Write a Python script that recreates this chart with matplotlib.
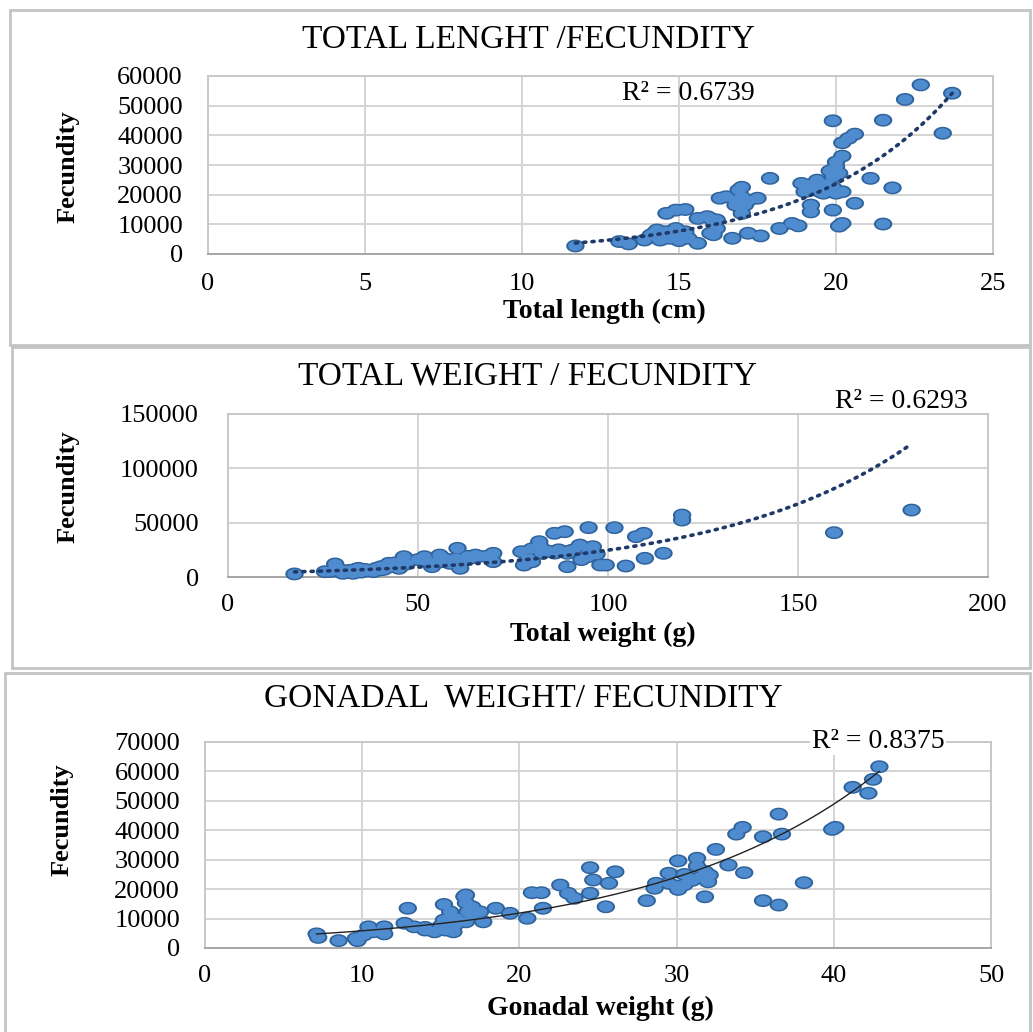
import numpy as np
import matplotlib
matplotlib.use('Agg')
import matplotlib.pyplot as plt
from matplotlib.path import Path
from matplotlib.patches import Rectangle

plt.rcParams['font.family'] = ['Liberation Serif', 'DejaVu Serif']

# ---- data ----
# panel 1: total length (cm) vs fecundity
len_cm = [11.7, 13.1, 13.4, 13.9, 14.1, 14.3, 14.4, 14.6, 14.7, 14.9, 15.2, 15.3, 15.6,
          14.6, 14.9, 15.2, 15.6, 15.9, 16.1, 16.2, 16.0, 16.7, 17.2, 17.6, 18.2, 18.6,
          18.8, 16.3, 16.5, 16.9, 17.0, 17.1, 17.0, 17.5, 16.8, 17.9, 18.9, 19.1, 19.4,
          19.5, 19.2, 19.2, 19.9, 20.2, 20.1, 20.6, 20.0, 20.1, 20.2, 22.7, 23.7, 22.2,
          19.9, 21.5, 20.6, 20.4, 20.2, 23.4, 20.2, 20.0, 21.1, 21.8, 21.5, 19.9, 19.7,
          19.0, 14.2, 15.0, 16.2, 17.2, 19.9, 20.0,
          14.5, 14.8, 15.0, 14.3, 16.1, 16.0, 16.8, 17.0, 19.8, 19.3, 19.6]
fec_len = [2700, 4200, 3400, 4700, 6400, 8100, 4700, 7500, 5300, 8600, 7500, 5300, 3600,
           13700, 14800, 15000, 12000, 12600, 10900, 8600, 7000, 5300, 7000, 6100, 8600, 10300,
           9500, 18800, 19300, 21600, 19300, 16500, 13700, 18800, 16500, 25500, 23800, 23200, 24900,
           21000, 16500, 14200, 14800, 10300, 9400, 17100, 29400, 27200, 21000, 57000, 54200, 52100,
           44900, 45100, 40400, 39000, 37500, 40700, 33000, 31000, 25500, 22300, 10100, 22500, 23500,
           21000, 7000, 6200, 11500, 18000, 26000, 20500,
           6000, 7000, 4500, 5800, 6500, 12000, 18000, 22500, 28000, 22500, 20500]

# panel 2: total weight (g) vs fecundity
wt_g = [17.5, 25.5, 28.2, 28.2, 30.2, 31, 32.9, 33, 34.3, 35, 36, 37, 38.3, 39, 40.3, 41,
        42.3, 43, 44, 45, 46.3, 51.7, 53.7, 55.7, 58.4, 60.4, 61.1, 62.4, 65.1, 69.8, 69.8,
        77.2, 77.9, 81.9, 82.6, 85.9, 88.6, 89.3, 89.3, 92.6, 94.7, 96, 98, 99.4, 94.9, 101.7,
        104.7, 107.4, 109.4, 109.7, 114.6, 119.5, 119.5, 159.5, 179.9,
        56, 57, 63, 66, 79, 80, 84, 86, 91, 93, 50, 47, 80,
        27, 29, 32, 36, 40, 42, 44, 52, 55, 60, 64, 68, 82, 87, 90, 95, 97]
fec_wt = [2800, 4900, 6400, 12000, 3400, 5500, 3400, 6500, 8000, 4500, 7000, 6000, 4900, 8000, 9500, 7000,
          12600, 10000, 13000, 8000, 18700, 18700, 9500, 20200, 12600, 26400, 8000, 15600, 20200, 21800, 14100,
          23300, 11000, 32500, 21800, 40200, 41700, 21800, 9500, 29400, 18700, 27900, 11000, 11000, 45400, 45400,
          10100, 37100, 40200, 17200, 21800, 57000, 52400, 40800, 61600,
          14000, 17000, 19000, 19000, 17000, 26000, 24000, 22000, 25000, 16000, 16000, 12000, 14000,
          5000, 7500, 6000, 5500, 6500, 9000, 9500, 15000, 14000, 17000, 17500, 19000, 29000, 25000,
          24000, 24000, 21000]

# panel 3: gonadal weight (g) vs fecundity
gon_g = [7.1, 7.2, 8.5, 9.6, 9.7, 10.4, 11.4, 11.4, 10.1, 10.7, 12.9, 12.7, 13.3, 14.0, 14.6,
         15.3, 15.8, 15.2, 15.6, 15.2, 16.6, 16.6, 16.7, 16.6, 17.5, 17.7, 15.9, 18.5, 19.4,
         20.5, 20.8, 21.4, 21.5, 22.6, 23.1, 23.5, 24.5, 24.7, 24.5, 25.7, 25.5, 26.1, 28.1,
         28.6, 28.7, 29.5, 30.1, 30.1, 30.8, 31.3, 31.3, 31.8, 32.1, 32.5, 33.3, 33.8, 34.2,
         34.3, 35.5, 35.5, 36.5, 36.5, 36.7, 38.1, 39.9, 40.1, 41.2, 42.2, 42.5, 42.9,
         29.5, 30.5, 31.0, 31.5, 32.0, 30.0, 14.0, 16.0, 17.0,
         15.0, 16.0, 17.0, 16.5, 30.5, 31.8]
fec_gon = [4800, 3600, 2500, 3300, 2500, 7200, 7200, 4800, 4400, 5500, 13500, 8400, 7200, 6100, 5500,
           6100, 5500, 14800, 12300, 9500, 18000, 15300, 12300, 8900, 12300, 8900, 7800, 13500, 11800,
           10100, 18800, 18800, 13500, 21400, 18600, 16900, 27300, 23100, 18600, 22000, 14000, 25900, 16100,
           20300, 22000, 25400, 29600, 19900, 23700, 30500, 27800, 17400, 24800, 33500, 28200, 38700, 41000,
           25600, 16100, 37800, 14600, 45500, 38700, 22200, 40300, 41000, 54600, 52600, 57300, 61600,
           22000, 21500, 23000, 24000, 22500, 21000, 7000, 10000, 11000,
           7500, 8500, 14000, 17500, 25000, 26000]

# exponential trendlines y = a * exp(b * x)
trend_a = [270, 3324, 2880]
trend_b = [0.2237, 0.02005, 0.0708]
r2_text = ['R² = 0.6739', 'R² = 0.6293', 'R² = 0.8375']

W, H = 1033, 1032
fig = plt.figure(figsize=(W / 100, H / 100), dpi=100)
fig.patch.set_facecolor('white')


def px_axes(left, top, right, bottom):
    return fig.add_axes([left / W, 1 - bottom / H, (right - left) / W, (bottom - top) / H])


def ftext(x, y, s, **kw):
    fig.text(x / W, 1 - y / H, s, ha='center', va='center', **kw)


# chart-area borders
for (l, t, r, b) in [(10, 10, 1030, 345), (12, 347, 1030, 668), (5, 673, 1030, 1040)]:
    fig.patches.append(Rectangle((l / W, 1 - b / H), (r - l) / W, (b - t) / H,
                                 transform=fig.transFigure, fill=False,
                                 edgecolor='#c4c4c4', linewidth=2))

th = np.linspace(0, 2 * np.pi, 60)
ellipse = Path(np.column_stack([np.cos(th), 0.7 * np.sin(th)]), closed=True)

panels = [
    dict(box=(208, 76, 993, 254), x=len_cm, y=fec_len, xlim=(0, 25), xstep=5,
         ylim=(0, 60000), ystep=10000, ls=(0, (0.6, 1.7)), lc='#1f3a68', lw=2.6,
         title='TOTAL LENGHT /FECUNDITY', tpos=(528, 40),
         xlabel='Total length (cm)', xlpos=(604, 311), ylpos=(68, 167), rpos=(688, 94),
         ypad=18, xpad=14),
    dict(box=(228, 414, 988, 577), x=wt_g, y=fec_wt, xlim=(0, 200), xstep=50,
         ylim=(0, 150000), ystep=50000, ls=(0, (0.6, 1.7)), lc='#1f3a68', lw=2.6,
         title='TOTAL WEIGHT / FECUNDITY', tpos=(527, 376),
         xlabel='Total weight (g)', xlpos=(603, 634), ylpos=(68, 487), rpos=(901, 402),
         ypad=21, xpad=12),
    dict(box=(205, 742, 991, 948), x=gon_g, y=fec_gon, xlim=(0, 50), xstep=10,
         ylim=(0, 70000), ystep=10000, ls='-', lc='#222222', lw=1.0,
         title='GONADAL  WEIGHT/ FECUNDITY', tpos=(523, 698),
         xlabel='Gonadal weight (g)', xlpos=(600, 1008), ylpos=(62, 820), rpos=(878, 741),
         ypad=18, xpad=12),
]

for i, p in enumerate(panels):
    ax = px_axes(*p['box'])
    ax.set_xlim(*p['xlim'])
    ax.set_ylim(*p['ylim'])
    ax.set_xticks(np.arange(p['xlim'][0], p['xlim'][1] + 1, p['xstep']))
    ax.set_yticks(np.arange(p['ylim'][0], p['ylim'][1] + 1, p['ystep']))
    ax.grid(True, color='#d4d4d4', linewidth=1.4)
    ax.set_axisbelow(True)
    for s in ax.spines.values():
        s.set_color('#c8c8c8')
        s.set_linewidth(1.4)
    ax.spines['bottom'].set_color('#a6a6a6')
    ax.tick_params(length=0, labelsize=19)
    ax.tick_params(axis='y', pad=p['ypad'])
    ax.tick_params(axis='x', pad=p['xpad'])

    # dark rim underneath, lighter fill on top: overlapping markers merge into blobs
    ax.scatter(p['x'], p['y'], marker=ellipse, s=175, facecolor='#2f639c',
               edgecolor='none', zorder=3, clip_on=False)
    ax.scatter(p['x'], p['y'], marker=ellipse, s=105, facecolor='#4f8ccf',
               edgecolor='none', zorder=3.1, clip_on=False)

    xs = np.linspace(min(p['x']), max(p['x']), 200)
    ax.plot(xs, trend_a[i] * np.exp(trend_b[i] * xs), linestyle=p['ls'],
            color=p['lc'], linewidth=p['lw'], dash_capstyle='round', zorder=4)

    ftext(*p['tpos'], p['title'], fontsize=24)
    ftext(*p['xlpos'], p['xlabel'], fontsize=20, fontweight='bold')
    ftext(*p['ylpos'], 'Fecundity', fontsize=19, fontweight='bold', rotation=90)
    bbox = dict(facecolor='white', edgecolor='none', pad=1) if i == 2 else None
    ftext(*p['rpos'], r2_text[i], fontsize=20, bbox=bbox, zorder=5)

fig.savefig('out.png', dpi=100)
